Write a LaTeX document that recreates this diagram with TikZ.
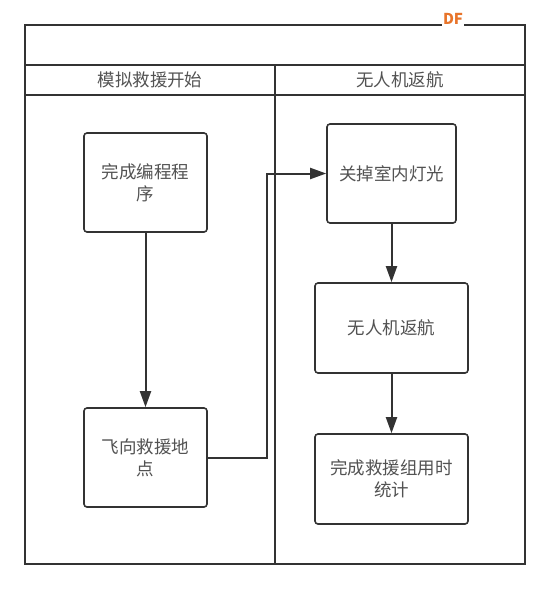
\documentclass[tikz,border=0pt]{standalone}
\usepackage{fontspec}
\setmainfont{Noto Sans CJK SC}
\usetikzlibrary{arrows.meta}

\definecolor{linegray}{HTML}{333333}
\definecolor{wmorange}{HTML}{E8742A}

\tikzset{
    procbox/.style={draw=linegray, line width=1.6pt, rounded corners=3pt, fill=white,
        align=center, text=linegray!85, inner sep=0pt},
    flowline/.style={draw=linegray, line width=2pt, -{Triangle[length=16pt,width=11pt]}},
    lane/.style={draw=linegray, line width=1.8pt},
}

\begin{document}
\begin{tikzpicture}[x=1pt, y=-1pt, font=\fontsize{17.5}{22}\selectfont]
    \useasboundingbox (0, 0) rectangle (550, 590);
    % pool and lanes
    \draw [lane] (25, 25) rectangle (525, 564);
    \draw [lane] (25, 65) -- (525, 65);
    \draw [lane] (25, 95) -- (525, 95);
    \draw [lane] (275, 65) -- (275, 564);
    \node [text=linegray!85] (lanea) at (150, 80) {模拟救援开始};
    \node [text=linegray!85] (laneb) at (400, 80) {无人机返航};
    % steps
    \node [procbox, minimum width=123pt, minimum height=99pt] (prog) at (145.5, 182.5) {完成编程程\\序};
    \node [procbox, minimum width=123pt, minimum height=99pt] (fly) at (145.5, 457.5) {飞向救援地\\点};
    \node [procbox, minimum width=129pt, minimum height=99pt] (light) at (391.5, 173.5) {关掉室内灯光};
    \node [procbox, minimum width=153pt, minimum height=90pt] (back) at (391.5, 328) {无人机返航};
    \node [procbox, minimum width=153pt, minimum height=90pt] (stat) at (391.5, 479) {完成救援组用时\\统计};
    % connectors
    \draw [flowline] (prog) -- (fly);
    \draw [flowline] (fly.east) -- (267, 457.5) |- (light.west);
    \draw [flowline] (light) -- (back);
    \draw [flowline] (back) -- (stat);
    % watermark
    \node [fill=white, text=wmorange, font=\bfseries\fontsize{15}{15}\selectfont, inner sep=1pt] (mark) at (453, 19) {DF};
\end{tikzpicture}
\end{document}
